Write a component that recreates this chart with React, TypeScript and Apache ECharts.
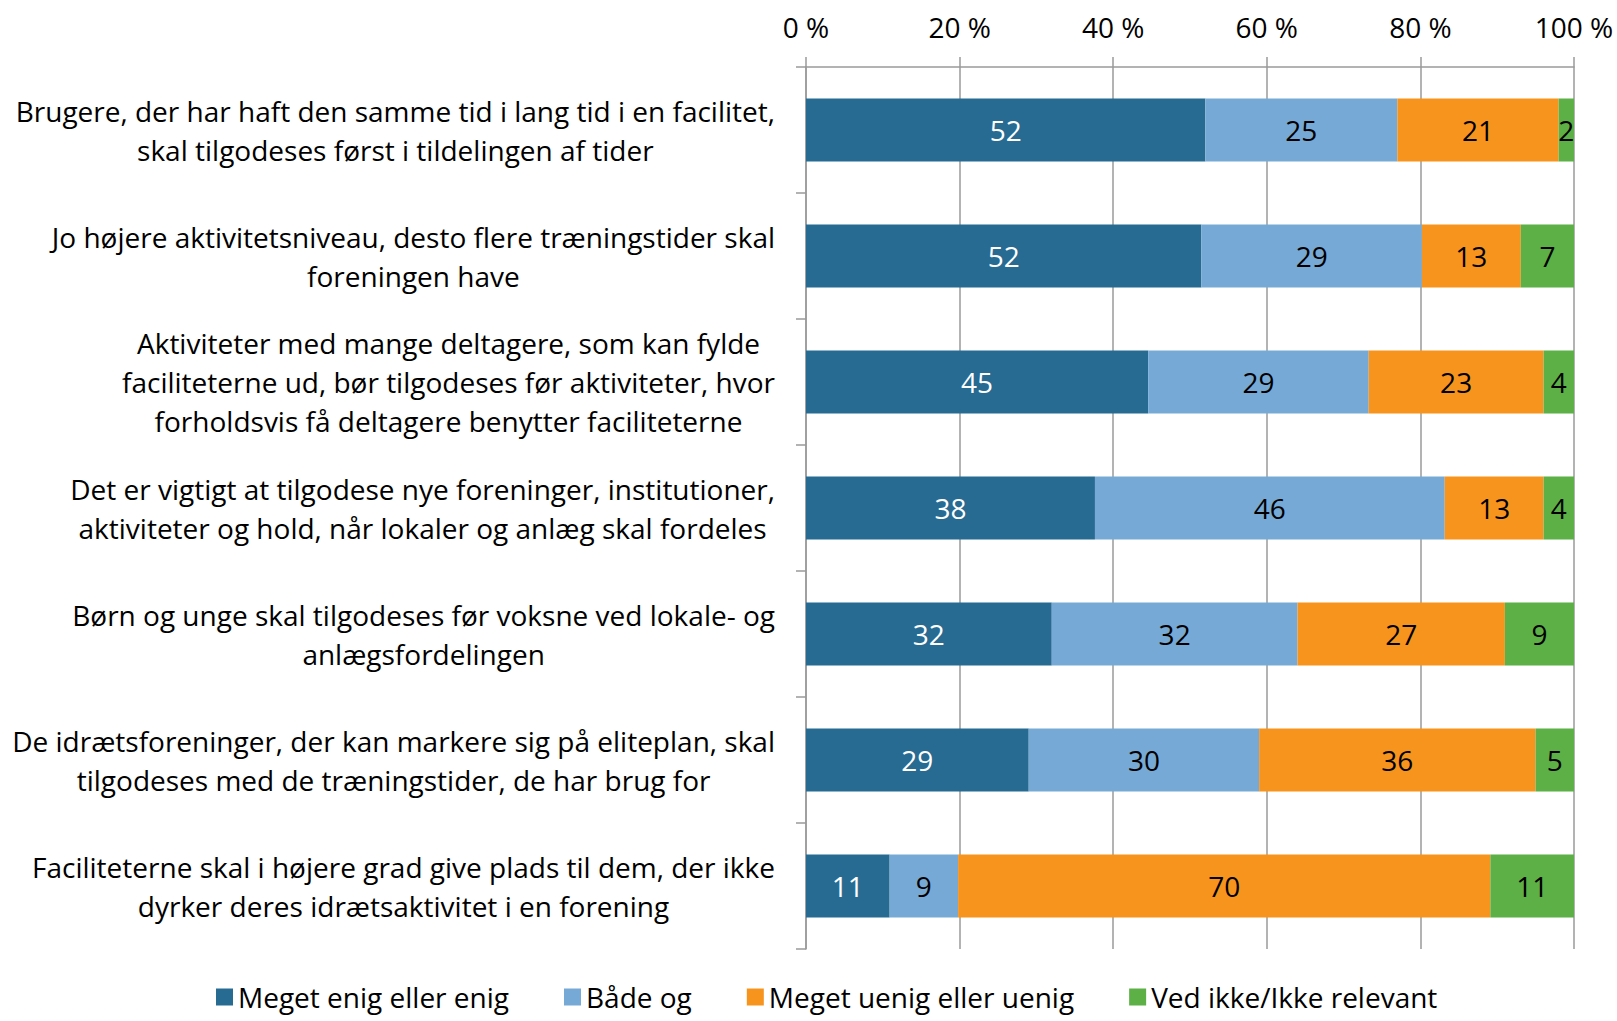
import React, { useEffect, useRef } from "react";
import * as echarts from "echarts";

const categories = [
  "Brugere, der har haft den samme tid i lang tid i en facilitet,\nskal tilgodeses først i tildelingen af tider",
  "Jo højere aktivitetsniveau, desto flere træningstider skal\nforeningen have",
  "Aktiviteter med mange deltagere, som kan fylde\nfaciliteterne ud, bør tilgodeses før aktiviteter, hvor\nforholdsvis få deltagere benytter faciliteterne",
  "Det er vigtigt at tilgodese nye foreninger, institutioner,\naktiviteter og hold, når lokaler og anlæg skal fordeles",
  "Børn og unge skal tilgodeses før voksne ved lokale- og\nanlægsfordelingen",
  "De idrætsforeninger, der kan markere sig på eliteplan, skal\ntilgodeses med de træningstider, de har brug for",
  "Faciliteterne skal i højere grad give plads til dem, der ikke\ndyrker deres idrætsaktivitet i en forening",
];

const seriesNames = [
  "Meget enig eller enig",
  "Både og",
  "Meget uenig eller uenig",
  "Ved ikke/Ikke relevant",
];

const enig = [52, 52, 45, 38, 32, 29, 11];
const baadeOg = [25, 29, 29, 46, 32, 30, 9];
const uenig = [21, 13, 23, 13, 27, 36, 70];
const vedIkke = [2, 7, 4, 4, 9, 5, 11];

const xTicks = [0, 20, 40, 60, 80, 100];

const colors = ["#276A92", "#76A9D6", "#F7941E", "#5DB046"];
const labelColors = ["#ffffff", "#000000", "#000000", "#000000"];

const FONT = "'Open Sans', Lato, sans-serif";
const FS = 28;

export default function App() {
  const ref = useRef<HTMLDivElement>(null);

  useEffect(() => {
    if (!ref.current) return;
    const chart = echarts.init(ref.current, undefined, { renderer: "svg" });
    const raw = [enig, baadeOg, uenig, vedIkke];
    const totals = categories.map((_, i) =>
      raw.reduce((s, arr) => s + arr[i], 0)
    );

    const series = raw.map((arr, si) => ({
      name: seriesNames[si],
      type: "bar",
      stack: "total",
      barCategoryGap: "50%",
      itemStyle: { color: colors[si] },
      label: {
        show: true,
        position: "inside",
        color: labelColors[si],
        fontFamily: FONT,
        fontSize: FS,
        formatter: (p: any) => String(arr[p.dataIndex]),
      },
      data: arr.map((v, i) => (v / totals[i]) * 100),
    }));

    chart.setOption({
      animation: false,
      textStyle: { fontFamily: FONT },
      grid: { left: 806, right: 43, top: 67, bottom: 72, containLabel: false },
      legend: {
        top: 978,
        left: 211,
        itemWidth: 17,
        itemHeight: 17,
        itemGap: 55,
        icon: "rect",
        textStyle: { fontFamily: FONT, fontSize: FS, color: "#000" },
        data: seriesNames,
      },
      xAxis: {
        type: "value",
        position: "top",
        min: 0,
        max: 100,
        interval: 20,
        axisLine: { show: true, lineStyle: { color: "#9a9a9a", width: 1.5 } },
        axisTick: { show: true, length: 10, lineStyle: { color: "#9a9a9a", width: 1.5 } },
        splitLine: { show: true, lineStyle: { color: "#9a9a9a", width: 1.5 } },
        axisLabel: {
          margin: 26,
          fontFamily: FONT,
          fontSize: FS,
          color: "#000",
          formatter: (v: number) => (xTicks.includes(v) ? `${v} %` : ""),
        },
      },
      yAxis: {
        type: "category",
        inverse: true,
        data: categories,
        axisLine: { show: true, lineStyle: { color: "#9a9a9a", width: 1.5 } },
        axisTick: { show: true, length: 10, lineStyle: { color: "#9a9a9a", width: 1.5 } },
        axisLabel: {
          margin: 31,
          fontFamily: FONT,
          fontSize: FS,
          color: "#000",
          lineHeight: 39,
          align: "right",
          formatter: (v: string) =>
            v
              .split("\n")
              .map((l) => `{c|${l}}`)
              .join("\n"),
          rich: {
            c: {
              align: "center",
              fontFamily: FONT,
              fontSize: FS,
              lineHeight: 39,
              color: "#000",
            },
          },
        },
      },
      series,
    });

    return () => chart.dispose();
  }, []);

  return (
    <div
      ref={ref}
      style={{ position: "fixed", left: 0, top: 0, width: 1617, height: 1021, background: "#fff" }}
    />
  );
}
